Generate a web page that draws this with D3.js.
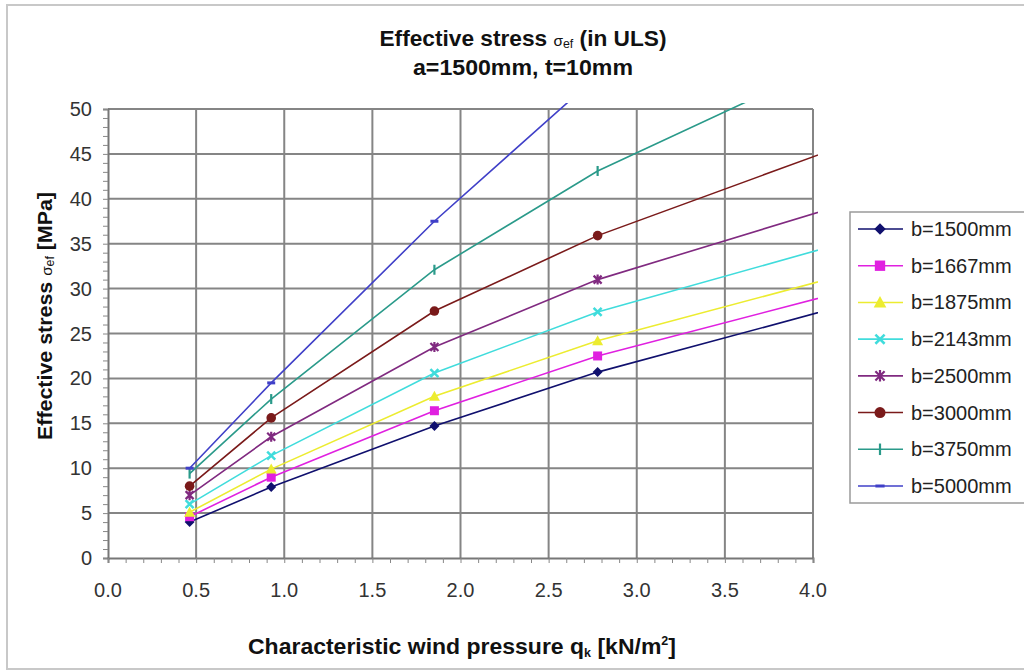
<!DOCTYPE html>
<html>
<head>
<meta charset="utf-8">
<script src="https://cdn.jsdelivr.net/npm/d3@7"></script>
<style>
  body { margin: 0; background: #fff; }
  svg { display: block; }
  .tick-label { font-family: "Liberation Sans", Arial, sans-serif; font-size: 20px; fill: #333; }
  .bold-label { font-family: "Liberation Sans", Arial, sans-serif; font-weight: bold; fill: #111; }
  .legend-text { font-family: "Liberation Sans", Arial, sans-serif; font-size: 20px; fill: #222; }
</style>
</head>
<body>
<svg id="chart" width="1024" height="671"></svg>
<script>
// wind pressure q_k [kN/m2] where the values were computed
const qValues = [0.463, 0.926, 1.852, 2.778, 4.630];

// effective stress [MPa] per plate width b
const b1500 = [4.0, 7.9, 14.7, 20.7, 30.5];
const b1667 = [4.6, 9.0, 16.4, 22.5, 32.0];
const b1875 = [5.1, 9.9, 18.0, 24.2, 33.9];
const b2143 = [6.0, 11.4, 20.6, 27.4, 37.6];
const b2500 = [7.0, 13.5, 23.5, 31.0, 42.1];
const b3000 = [8.0, 15.6, 27.5, 35.9, 49.2];
const b3750 = [9.4, 17.7, 32.1, 43.1, 60.0];
const b5000 = [10.0, 19.5, 37.5, 53.7, 82.4];

const seriesNames = ["b=1500mm", "b=1667mm", "b=1875mm", "b=2143mm", "b=2500mm", "b=3000mm", "b=3750mm", "b=5000mm"];
const seriesValues = [b1500, b1667, b1875, b2143, b2500, b3000, b3750, b5000];
const seriesColors = ["#10106e", "#e020e0", "#ecec30", "#40dcdc", "#802a80", "#7a1a1a", "#2a9a8a", "#4040c8"];
const seriesMarkers = ["diamond", "square", "triangle", "cross", "star", "circle", "plus", "dash"];

const xTicks = [0.0, 0.5, 1.0, 1.5, 2.0, 2.5, 3.0, 3.5, 4.0];
const yTicks = [0, 5, 10, 15, 20, 25, 30, 35, 40, 45, 50];

const svg = d3.select("#chart");
const plot = { left: 108, right: 813, top: 109, bottom: 558 };

// outer frame (right edge runs off the picture)
svg.append("rect")
  .attr("x", 7).attr("y", 5)
  .attr("width", 1040).attr("height", 664)
  .attr("fill", "none")
  .attr("stroke", "#c8c8c8")
  .attr("stroke-width", 2);

const x = d3.scaleLinear().domain([0, 4]).range([plot.left, plot.right]);
const y = d3.scaleLinear().domain([0, 50]).range([plot.bottom, plot.top]);

// grid
svg.append("g")
  .selectAll("line")
  .data(xTicks.slice(1))
  .join("line")
  .attr("x1", d => x(d)).attr("x2", d => x(d))
  .attr("y1", plot.top).attr("y2", plot.bottom)
  .attr("stroke", "#858585").attr("stroke-width", 2);

svg.append("g")
  .selectAll("line")
  .data(yTicks.slice(1))
  .join("line")
  .attr("x1", plot.left).attr("x2", plot.right)
  .attr("y1", d => y(d)).attr("y2", d => y(d))
  .attr("stroke", "#858585").attr("stroke-width", 2);

// axes with minor ticks
const yAxis = svg.append("g")
  .attr("transform", `translate(${plot.left},0)`)
  .call(d3.axisLeft(y).tickValues(d3.range(0, 51, 1)).tickSize(5).tickFormat(""));
yAxis.select(".domain").attr("stroke", "#777").attr("stroke-width", 2);
yAxis.selectAll(".tick line").attr("stroke", "#888");

const xAxis = svg.append("g")
  .attr("transform", `translate(0,${plot.bottom})`)
  .call(d3.axisBottom(x).tickValues(d3.range(0, 41, 1).map(d => d / 10)).tickSize(5).tickFormat(""));
xAxis.select(".domain").attr("stroke", "#777").attr("stroke-width", 2);
xAxis.selectAll(".tick line").attr("stroke", "#888");

// tick labels
svg.append("g")
  .selectAll("text")
  .data(yTicks)
  .join("text")
  .attr("class", "tick-label")
  .attr("x", plot.left - 16)
  .attr("y", d => y(d) + 7)
  .attr("text-anchor", "end")
  .text(d => d);

svg.append("g")
  .selectAll("text")
  .data(xTicks)
  .join("text")
  .attr("class", "tick-label")
  .attr("x", d => x(d))
  .attr("y", plot.bottom + 39)
  .attr("text-anchor", "middle")
  .text(d => d.toFixed(1));

// series (lines clipped slightly outside the plot area)
svg.append("clipPath").attr("id", "plotClip")
  .append("rect")
  .attr("x", plot.left).attr("y", plot.top - 6)
  .attr("width", plot.right - plot.left + 5)
  .attr("height", plot.bottom - plot.top + 6);

const line = d3.line()
  .x((d, i) => x(qValues[i]))
  .y(d => y(d));

const seriesG = svg.append("g").attr("clip-path", "url(#plotClip)");

function drawMarker(g, type, color, cx, cy, k = 1) {
  if (type === "diamond") {
    g.append("path").attr("d", `M${cx},${cy - 5 * k}L${cx + 5 * k},${cy}L${cx},${cy + 5 * k}L${cx - 5 * k},${cy}Z`).attr("fill", color);
  } else if (type === "square") {
    g.append("rect").attr("x", cx - 4.5 * k).attr("y", cy - 4.5 * k).attr("width", 9 * k).attr("height", 9 * k).attr("fill", color);
  } else if (type === "triangle") {
    g.append("path").attr("d", `M${cx},${cy - 5.5 * k}L${cx + 5.5 * k},${cy + 4.5 * k}L${cx - 5.5 * k},${cy + 4.5 * k}Z`).attr("fill", color);
  } else if (type === "cross") {
    g.append("path").attr("d", `M${cx - 4 * k},${cy - 4 * k}L${cx + 4 * k},${cy + 4 * k}M${cx + 4 * k},${cy - 4 * k}L${cx - 4 * k},${cy + 4 * k}`)
      .attr("stroke", color).attr("stroke-width", 2.5);
  } else if (type === "star") {
    g.append("path").attr("d", `M${cx - 4 * k},${cy - 4 * k}L${cx + 4 * k},${cy + 4 * k}M${cx + 4 * k},${cy - 4 * k}L${cx - 4 * k},${cy + 4 * k}M${cx},${cy - 5 * k}L${cx},${cy + 5 * k}`)
      .attr("stroke", color).attr("stroke-width", 2.2);
  } else if (type === "circle") {
    g.append("circle").attr("cx", cx).attr("cy", cy).attr("r", 4.8 * k).attr("fill", color);
  } else if (type === "plus") {
    g.append("path").attr("d", `M${cx},${cy - 5 * k}L${cx},${cy + 5 * k}`)
      .attr("stroke", color).attr("stroke-width", 2.2);
  } else if (type === "dash") {
    g.append("path").attr("d", `M${cx - 4 * k},${cy}L${cx + 4 * k},${cy}`)
      .attr("stroke", color).attr("stroke-width", 3);
  }
}

seriesValues.forEach((vals, s) => {
  const g = seriesG.append("g");
  g.append("path")
    .datum(vals)
    .attr("fill", "none")
    .attr("stroke", seriesColors[s])
    .attr("stroke-width", 1.6)
    .attr("d", line);
  vals.forEach((v, i) => drawMarker(g, seriesMarkers[s], seriesColors[s], x(qValues[i]), y(v)));
});

// title
const title = svg.append("text")
  .attr("class", "bold-label")
  .attr("x", 523).attr("y", 46)
  .attr("text-anchor", "middle")
  .attr("font-size", 22)
  .attr("textLength", 287)
  .attr("lengthAdjust", "spacingAndGlyphs");
title.append("tspan").text("Effective stress ");
title.append("tspan").attr("font-size", 15).attr("font-weight", "normal").text("σ");
title.append("tspan").attr("font-size", 12).attr("font-weight", "normal").attr("dy", 2).text("ef");
title.append("tspan").attr("dy", -2).text(" (in ULS)");

svg.append("text")
  .attr("class", "bold-label")
  .attr("x", 523).attr("y", 75)
  .attr("text-anchor", "middle")
  .attr("font-size", 22)
  .attr("textLength", 220)
  .attr("lengthAdjust", "spacingAndGlyphs")
  .text("a=1500mm, t=10mm");

// y axis label
const yLabel = svg.append("text")
  .attr("class", "bold-label")
  .attr("transform", "translate(52,316) rotate(-90)")
  .attr("text-anchor", "middle")
  .attr("font-size", 21)
  .attr("textLength", 248)
  .attr("lengthAdjust", "spacingAndGlyphs");
yLabel.append("tspan").text("Effective stress ");
yLabel.append("tspan").attr("font-size", 15).attr("font-weight", "normal").text("σ");
yLabel.append("tspan").attr("font-size", 12).attr("font-weight", "normal").attr("dy", 2).text("ef");
yLabel.append("tspan").attr("dy", -2).text(" [MPa]");

// x axis label
const xLabel = svg.append("text")
  .attr("class", "bold-label")
  .attr("x", 462).attr("y", 654)
  .attr("text-anchor", "middle")
  .attr("font-size", 22)
  .attr("textLength", 428)
  .attr("lengthAdjust", "spacingAndGlyphs");
xLabel.append("tspan").text("Characteristic wind pressure q");
xLabel.append("tspan").attr("font-size", 12).attr("dy", 3).text("k");
xLabel.append("tspan").attr("dy", -3).text(" [kN/m");
xLabel.append("tspan").attr("font-size", 12).attr("dy", -9).text("2");
xLabel.append("tspan").attr("dy", 9).text("]");

// legend
const legend = svg.append("g");
legend.append("rect")
  .attr("x", 850).attr("y", 212)
  .attr("width", 200).attr("height", 291)
  .attr("fill", "#fff")
  .attr("stroke", "#9a9a9a")
  .attr("stroke-width", 1.5);

const legendY = d3.scalePoint().domain(seriesNames).range([229, 486]);

seriesNames.forEach((name, s) => {
  const ly = legendY(name);
  const g = legend.append("g");
  g.append("line")
    .attr("x1", 858).attr("x2", 903)
    .attr("y1", ly).attr("y2", ly)
    .attr("stroke", seriesColors[s]).attr("stroke-width", 1.6);
  drawMarker(g, seriesMarkers[s], seriesColors[s], 880, ly, 1.15);
  g.append("text")
    .attr("class", "legend-text")
    .attr("x", 911).attr("y", ly + 7)
    .text(name);
});
</script>
</body>
</html>
